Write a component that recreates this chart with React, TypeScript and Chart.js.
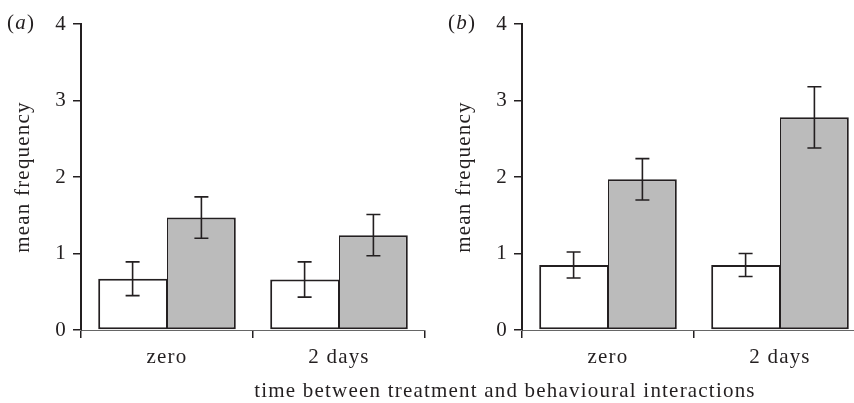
import React, { useEffect, useRef } from "react";
import { Chart, registerables } from "chart.js";

Chart.register(...registerables);

// ---- data ----
const categories = ["zero", "2 days"];
const yTickValues = [0, 1, 2, 3, 4];
const panelAWhite = [0.67, 0.66];
const panelAWhiteErr = [0.22, 0.23];
const panelAGrey = [1.47, 1.24];
const panelAGreyErr = [0.27, 0.27];
const panelBWhite = [0.85, 0.85];
const panelBWhiteErr = [0.17, 0.15];
const panelBGrey = [1.97, 2.78];
const panelBGreyErr = [0.27, 0.4];
const panelLetters = ["a", "b"];
const yTitle = "mean frequency";
const xTitle = "time between treatment and behavioural interactions";

// ---- styles ----
const FONT = "'Liberation Serif', 'Times New Roman', serif";
const FONT_SIZE = 21;
const SPACING = "1.2px";
const INK = "#231f20";
const GREY = "#bbbbbb";

const spacingPlugin = {
  id: "letterSpacing",
  beforeUpdate(chart: any) {
    chart.ctx.letterSpacing = SPACING;
  },
  beforeLayout(chart: any) {
    chart.ctx.letterSpacing = SPACING;
  },
  beforeDraw(chart: any) {
    chart.ctx.letterSpacing = SPACING;
  },
};

const errorBarPlugin = {
  id: "errorBars",
  afterDatasetsDraw(chart: any) {
    const ctx = chart.ctx;
    const yScale = chart.scales.y;
    chart.data.datasets.forEach((ds: any, i: number) => {
      const meta = chart.getDatasetMeta(i);
      meta.data.forEach((bar: any, j: number) => {
        const v = ds.data[j];
        const e = ds.errors[j];
        const x = bar.x;
        const top = yScale.getPixelForValue(v + e);
        const bot = yScale.getPixelForValue(v - e);
        ctx.save();
        ctx.strokeStyle = INK;
        ctx.lineWidth = 1.6;
        ctx.beginPath();
        ctx.moveTo(x, top);
        ctx.lineTo(x, bot);
        ctx.moveTo(x - 7, top);
        ctx.lineTo(x + 7, top);
        ctx.moveTo(x - 7, bot);
        ctx.lineTo(x + 7, bot);
        ctx.stroke();
        ctx.restore();
      });
    });
  },
};

function Panel(props: {
  white: number[];
  whiteErr: number[];
  grey: number[];
  greyErr: number[];
  left: number;
}) {
  const ref = useRef<HTMLCanvasElement>(null);
  useEffect(() => {
    const font = { family: FONT, size: FONT_SIZE };
    const chart = new Chart(ref.current as HTMLCanvasElement, {
      type: "bar",
      data: {
        labels: categories,
        datasets: [
          {
            data: props.white,
            errors: props.whiteErr,
            backgroundColor: "#ffffff",
            borderColor: INK,
            borderWidth: { top: 2, left: 2, bottom: 2, right: 1 },
            borderSkipped: false,
          } as any,
          {
            data: props.grey,
            errors: props.greyErr,
            backgroundColor: GREY,
            borderColor: INK,
            borderWidth: { top: 2, left: 1, bottom: 2, right: 2 },
            borderSkipped: false,
          } as any,
        ],
      },
      options: {
        responsive: false,
        animation: false,
        layout: { padding: { top: 24, right: 5, left: 0, bottom: 0 } },
        plugins: { legend: { display: false }, tooltip: { enabled: false } },
        datasets: { bar: { categoryPercentage: 0.8, barPercentage: 1 } },
        scales: {
          x: {
            grid: {
              drawOnChartArea: false,
              drawTicks: true,
              tickLength: 8,
              color: INK,
              lineWidth: 1.5,
              offset: true,
            },
            border: { color: "#666666", width: 1, dash: [6, 4] },
            ticks: { color: INK, font, padding: 7 },
            afterFit: (s: any) => {
              s.height = 73;
            },
          },
          y: {
            min: 0,
            max: 4,
            afterBuildTicks: (s: any) => {
              s.ticks = yTickValues.map((v) => ({ value: v }));
            },
            ticks: { stepSize: 1, color: INK, font, padding: 6 },
            grid: {
              drawOnChartArea: false,
              drawTicks: true,
              tickLength: 8,
              color: INK,
              lineWidth: 1.5,
            },
            border: { color: INK, width: 2 },
            title: {
              display: true,
              text: yTitle,
              color: INK,
              font,
              padding: { top: 11, bottom: 0 },
            },
            afterFit: (s: any) => {
              s.width = 81;
            },
          },
        },
      } as any,
      plugins: [spacingPlugin, errorBarPlugin],
    });
    return () => chart.destroy();
  }, []);
  return (
    <canvas
      ref={ref}
      width={430}
      height={403}
      style={{ position: "absolute", left: props.left, top: 0, display: "block" }}
    />
  );
}

const textStyle: React.CSSProperties = {
  position: "absolute",
  fontFamily: FONT,
  fontSize: FONT_SIZE,
  lineHeight: 1,
  letterSpacing: SPACING,
  color: INK,
  whiteSpace: "nowrap",
};

export default function App() {
  return (
    <div
      style={{
        position: "fixed",
        left: 0,
        top: 0,
        width: 854,
        height: 403,
        overflow: "hidden",
        background: "#ffffff",
      }}
    >
      <Panel
        white={panelAWhite}
        whiteErr={panelAWhiteErr}
        grey={panelAGrey}
        greyErr={panelAGreyErr}
        left={0}
      />
      <Panel
        white={panelBWhite}
        whiteErr={panelBWhiteErr}
        grey={panelBGrey}
        greyErr={panelBGreyErr}
        left={441}
      />
      <span style={{ ...textStyle, left: 7, top: 12 }}>
        (<i>{panelLetters[0]}</i>)
      </span>
      <span style={{ ...textStyle, left: 448, top: 12 }}>
        (<i>{panelLetters[1]}</i>)
      </span>
      <div
        style={{
          ...textStyle,
          left: 205,
          width: 600,
          top: 380,
          textAlign: "center",
        }}
      >
        {xTitle}
      </div>
    </div>
  );
}
